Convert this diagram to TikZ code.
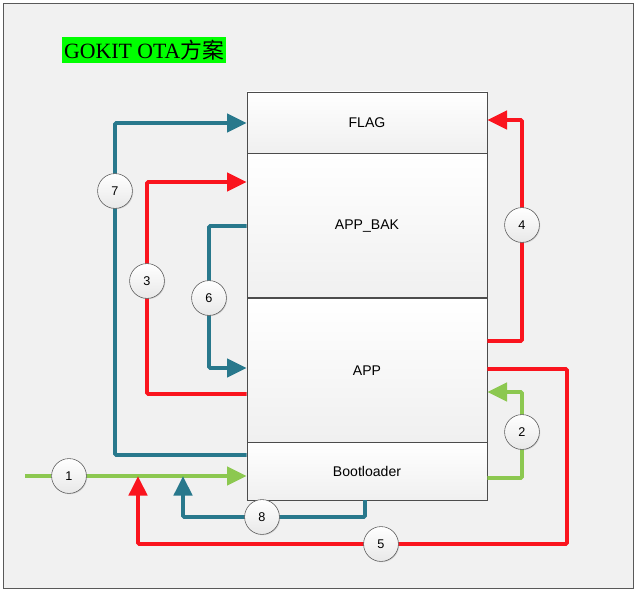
\documentclass[tikz,border=0pt]{standalone}
\usepackage{fontspec}
\setmainfont{Liberation Serif}
\setsansfont{Liberation Sans}
\newfontfamily\cjk{Noto Sans CJK SC}
\usetikzlibrary{arrows.meta,shadows}
\definecolor{bgray}{RGB}{241,241,241}
\definecolor{tealc}{RGB}{40,120,140}
\definecolor{redc}{RGB}{250,20,30}
\definecolor{greenc}{RGB}{140,200,80}
\begin{document}
\begin{tikzpicture}[x=0.025cm,y=-0.025cm,
		box/.style={draw=gray!60!black, top color=white, bottom color=gray!12,
			minimum width=6cm, inner sep=0pt, font=\sffamily\normalsize},
		num/.style={circle, draw=gray!70!black, top color=white, bottom color=gray!18,
			minimum size=0.87cm, inner sep=0pt, font=\sffamily\small,
			drop shadow={opacity=0.25, shadow xshift=0.6pt, shadow yshift=-0.6pt}},
		flow/.style={line width=2.8pt, rounded corners=1pt},
		tip/.style={-{Triangle[length=14pt,width=13pt]}},
		tl/.style={flow, tealc},
		rl/.style={flow, redc},
		gl/.style={flow, greenc}]
		\useasboundingbox (0,0) rectangle (636,590);
		\draw[gray!70!black, fill=bgray] (3,3) rectangle (633,588);
		% title
		\node[fill=green, minimum width=4.1cm, minimum height=0.65cm, inner sep=0pt,
			font=\fontsize{15.5}{15.5}\selectfont] (title) at (144,50) {GOKIT OTA{\cjk 方案}};
		% memory blocks
		\node[box, minimum height=1.525cm] (flag) at (367,122.5) {FLAG};
		\node[box, minimum height=3.6cm, anchor=north] (bak) at (flag.south) {APP\_BAK};
		\node[box, minimum height=3.6cm, anchor=north] (app) at (bak.south) {APP};
		\node[box, minimum height=1.425cm, anchor=north] (boot) at (app.south) {Bootloader};
		% connectors
		\coordinate (in) at (25,476);
		\draw[gl, tip] (in) -- (in -| boot.west);
		\draw[rl, tip] (app.east |- 0,369) -- (567,369) -- (567,544) -- (138,544) -- (138,476);
		\draw[tl, tip] (boot.south -| 365,0) -- (365,517) -- (183,517) -- (183,476);
		\draw[gl, tip] (boot.east |- 0,478) -- (522,478) -- (522,392) -- (app.east |- 0,392);
		\draw[rl, tip] (app.east |- 0,341) -- (522,341) -- (522,120) -- (flag.east |- 0,120);
		\draw[tl, tip] (boot.west |- 0,455) -- (115,455) -- (115,123) -- (flag.west |- 0,123);
		\draw[rl, tip] (app.west |- 0,394) -- (147,394) -- (147,182) -- (bak.west |- 0,182);
		\draw[tl, tip] (bak.west |- 0,226) -- (209,226) -- (209,368) -- (app.west |- 0,368);
		% step numbers
		\node[num] (n1) at (69,476) {1};
		\node[num] (n2) at (522,432) {2};
		\node[num] (n3) at (147,281) {3};
		\node[num] (n4) at (522,225) {4};
		\node[num] (n5) at (381,544) {5};
		\node[num] (n6) at (209,298) {6};
		\node[num] (n7) at (115,191) {7};
		\node[num] (n8) at (262,517) {8};
	\end{tikzpicture}
\end{document}
